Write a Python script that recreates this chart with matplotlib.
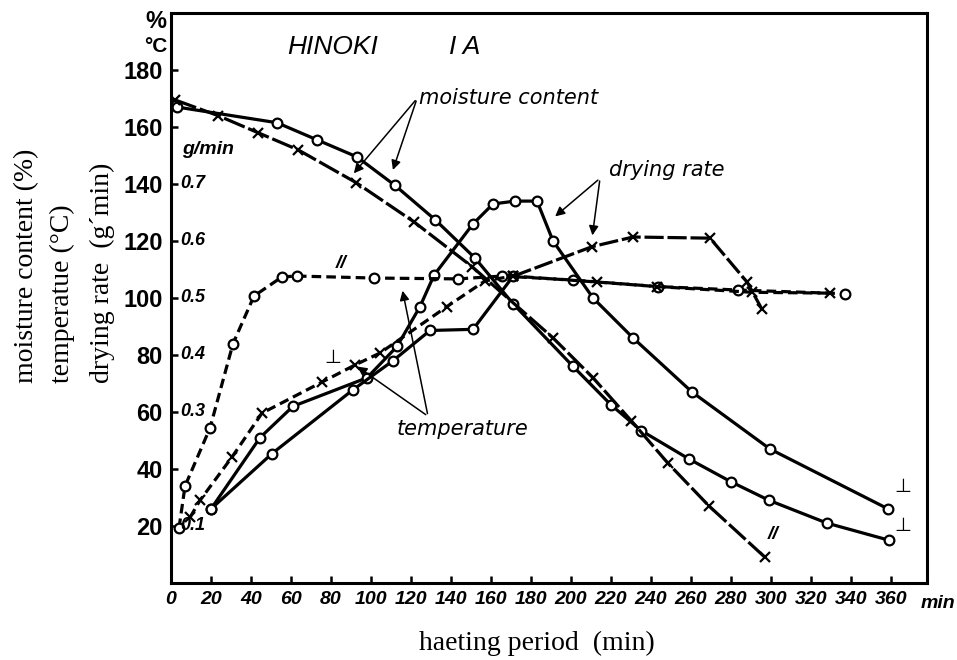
import numpy as np
import matplotlib
matplotlib.use("Agg")
import matplotlib.pyplot as plt

# heating time (min) and readings, taken off the scanned figure
# moisture content (%)
mc_perp_t = [3, 53, 73, 93, 112, 132, 152, 171, 201, 220, 235, 259, 280, 299, 328, 359]
mc_perp = [167, 161.5, 155.5, 149.5, 139.5, 127.5, 114, 98, 76, 62.5, 53.5, 43.5, 35.5, 29, 21, 15]
mc_par_t = [2, 23.5, 43.5, 63.5, 92.5, 121.5, 150.5, 191, 211, 230, 248.5, 269, 297]
mc_par = [169.5, 164, 158, 152, 140.5, 126.7, 111, 86, 72, 57, 42, 27, 9]

# drying rate (g/min)
dr_perp_t = [20, 44.5, 61, 98, 113, 124.5, 131.5, 151, 161, 172, 183, 191, 211, 231, 260.5, 299.5, 358.5]
dr_perp = [0.13, 0.255, 0.31, 0.36, 0.415, 0.485, 0.54, 0.63, 0.665, 0.67, 0.67, 0.60, 0.50, 0.43,
           0.335, 0.235, 0.13]
dr_par_t = [20, 50.5, 91, 111, 129.5, 151, 171, 210.5, 231, 269.5, 288, 295.5]
dr_par = [0.13, 0.227, 0.339, 0.39, 0.443, 0.445, 0.538, 0.59, 0.607, 0.605, 0.528, 0.48]

# temperature (deg C)
tp_par_t = [4, 7, 19.5, 31, 41.5, 55.5, 63, 101.5, 143.5, 165.5, 201, 243.5, 283.5, 337]
tp_par = [19.3, 34, 54.4, 84, 100.7, 107.4, 107.7, 107, 106.7, 107.7, 106.3, 104, 102.8, 101.5]
tp_perp_t = [9.5, 14.5, 30.5, 45.5, 75.5, 92, 104.5, 138, 157, 171, 213, 243, 290.5, 329.5]
tp_perp = [23, 29, 44.2, 59.6, 70.5, 76.5, 80.7, 97, 106, 107.7, 105.6, 104, 102, 101.7]

x_ticks = list(range(0, 361, 20))
y_ticks = list(range(20, 181, 20))
rate_ticks = [0.1, 0.3, 0.4, 0.5, 0.6, 0.7]
RATE_SCALE = 200  # 0.1 g/min sits on the 20 line

narrow = ['Liberation Sans Narrow', 'Liberation Sans', 'DejaVu Sans']
serif = ['Liberation Serif', 'DejaVu Serif']
hand = ['DejaVu Sans']

fig = plt.figure(figsize=(9.57, 6.6), dpi=100)
ax = fig.add_axes([0.1787, 0.1167, 0.79, 0.8636])
ax.set_xlim(0, 378)
ax.set_ylim(0, 200)

lw = 2.3
open_o = dict(marker='o', mfc='white', mec='black', ms=7, mew=1.6)
cross = dict(marker='x', mec='black', ms=7, mew=1.6)

# moisture content
ax.plot(mc_perp_t, mc_perp, color='black', lw=lw, **open_o)
ax.plot(mc_par_t, mc_par, color='black', lw=lw, dashes=(7, 1.2), **cross)

# drying rate
ax.plot(dr_perp_t, np.array(dr_perp) * RATE_SCALE, color='black', lw=lw, **open_o)
k = dr_par_t.index(171)
ax.plot(dr_par_t[:k + 1], np.array(dr_par[:k + 1]) * RATE_SCALE, color='black', lw=lw, **open_o)
ax.plot(dr_par_t[k:], np.array(dr_par[k:]) * RATE_SCALE, color='black', lw=lw, dashes=(6, 1.2), **cross)

# temperature
ax.plot(tp_par_t, tp_par, color='black', lw=lw, dashes=(3, 1.6), **open_o)
ax.plot(tp_perp_t, tp_perp, color='black', lw=lw, dashes=(3, 1.6), **cross)

# axes look
for s in ax.spines.values():
    s.set_linewidth(2.2)
ax.set_xticks(x_ticks)
ax.set_yticks(y_ticks)
ax.tick_params(direction='in', length=5, width=1.8, pad=6)
for lab in ax.get_xticklabels():
    lab.set_family(narrow); lab.set_fontsize(14); lab.set_style('italic'); lab.set_weight('bold')
for lab in ax.get_yticklabels():
    lab.set_family(narrow); lab.set_fontsize(17); lab.set_weight('bold')

ytr = ax.get_yaxis_transform()
for r in rate_ticks:
    ax.text(0.012, r * RATE_SCALE, f'{r:.1f}', transform=ytr, ha='left', va='center',
            family=narrow, fontsize=13, style='italic', weight='bold')
ax.text(0.014, 152, 'g/min', transform=ytr, ha='left', va='center', family=narrow,
        fontsize=14, style='italic', weight='bold')
fig.text(955 / 957, 1 - 604 / 660, 'min', ha='right', va='center', family=narrow,
         fontsize=14, style='italic', weight='bold')
fig.text(156 / 957, 1 - 21 / 660, '%', ha='center', va='center', family=narrow, fontsize=17, weight='bold')
fig.text(156 / 957, 1 - 47 / 660, '°C', ha='center', va='center', family=narrow, fontsize=15, weight='bold')

# axis titles
for xp, s in [(27, 'moisture content (%)'), (62, 'temperatue (°C)'), (102, 'drying rate  (g\u00b4min)')]:
    fig.text(xp / 957, 1 - 383 / 660, s, rotation=90, ha='center', va='bottom', family=serif, fontsize=20)
fig.text(537 / 957, 1 - 643 / 660, 'haeting period  (min)', ha='center', va='center', family=serif, fontsize=20)

# labels inside the plot
ax.text(58, 188, 'HINOKI', family=narrow, fontsize=19, style='italic', ha='left', va='center')
ax.text(139, 188, 'I A', family=narrow, fontsize=19, style='italic', ha='left', va='center')

arr = dict(arrowstyle='-|>', color='black', lw=1.1, mutation_scale=14)
ax.text(124, 170, 'moisture content', family=hand, fontsize=15, style='italic', ha='left', va='center')
ax.annotate('', xy=(90.5, 143), xytext=(123, 170), arrowprops=arr)
ax.annotate('', xy=(110.5, 144), xytext=(123, 170), arrowprops=arr)

ax.text(219, 145, 'drying rate', family=hand, fontsize=15, style='italic', ha='left', va='center')
ax.annotate('', xy=(191, 128), xytext=(214.5, 142), arrowprops=arr)
ax.annotate('', xy=(210.5, 121), xytext=(214.5, 142), arrowprops=arr)

ax.text(113, 54, 'temperature', family=hand, fontsize=15, style='italic', ha='left', va='center')
ax.annotate('', xy=(92, 76.5), xytext=(128.5, 58.5), arrowprops=arr)
ax.annotate('', xy=(115.5, 103.5), xytext=(128.5, 58.5), arrowprops=arr)

# orientation marks
ax.text(85, 112, '//', family=narrow, fontsize=14, style='italic', weight='bold', ha='center', va='center')
ax.text(81, 79, '\u22a5', family='DejaVu Sans', fontsize=14, ha='center', va='center')
ax.text(366, 34, '\u22a5', family='DejaVu Sans', fontsize=14, ha='center', va='center')
ax.text(366, 20, '\u22a5', family='DejaVu Sans', fontsize=14, ha='center', va='center')
ax.text(301, 17, '//', family=narrow, fontsize=14, style='italic', weight='bold', ha='center', va='center')

fig.savefig('out.png', dpi=100)
